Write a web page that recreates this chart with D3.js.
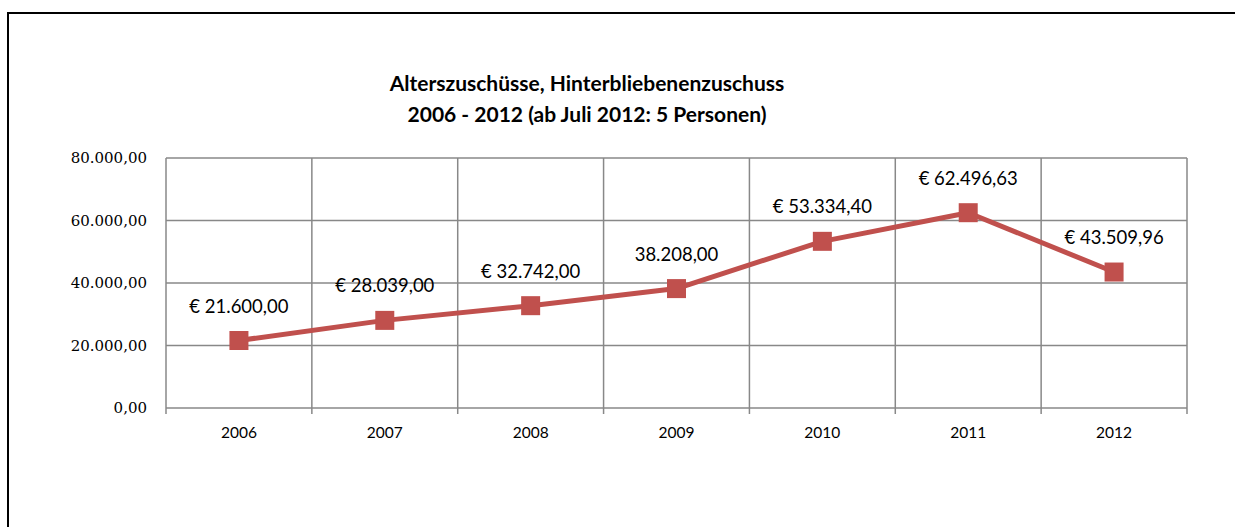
<!DOCTYPE html>
<html>
<head>
<meta charset="utf-8">
<script src="https://cdn.jsdelivr.net/npm/d3@7"></script>
<style>
  html, body { margin: 0; padding: 0; background: #fff; overflow: hidden; }
  svg { display: block; }
</style>
</head>
<body>
<div id="chartContainer"></div>
<script>
// Chart data
const years = ["2006", "2007", "2008", "2009", "2010", "2011", "2012"];
const amounts = [21600.00, 28039.00, 32742.00, 38208.00, 53334.40, 62496.63, 43509.96];
const euroSign = [true, true, true, false, true, true, true];
const yTicks = [0, 20000, 40000, 60000, 80000];
const titleLines = ["Alterszuschüsse, Hinterbliebenenzuschuss", "2006 - 2012 (ab Juli 2012: 5 Personen)"];

const width = 1235;
const height = 527;
const margin = { top: 158, right: 48, bottom: 119, left: 166 };

// German number format
const de = d3.formatLocale({ decimal: ",", thousands: ".", grouping: [3], currency: ["€ ", ""] });
const fmt = de.format(",.2f");

const svg = d3.select("#chartContainer")
  .append("svg")
  .attr("width", width)
  .attr("height", height);

// outer frame: only the left and top edges are inside the picture
svg.append("path")
  .attr("d", `M8,${height} L8,13 L${width},13`)
  .attr("fill", "none")
  .attr("stroke", "#000")
  .attr("stroke-width", 2);

// title
svg.append("text")
  .attr("x", 587)
  .attr("y", 91)
  .attr("text-anchor", "middle")
  .attr("font-family", "Lato, sans-serif")
  .attr("font-weight", "bold")
  .attr("font-size", 21)
  .selectAll("tspan")
  .data(titleLines)
  .enter()
  .append("tspan")
  .attr("x", 587)
  .attr("dy", (d, i) => i === 0 ? 0 : 31)
  .text(d => d);

const x = d3.scaleBand()
  .domain(years)
  .range([margin.left, width - margin.right]);

const y = d3.scaleLinear()
  .domain([0, 80000])
  .range([height - margin.bottom, margin.top]);

const gridColor = "#888";

// horizontal gridlines
svg.append("g")
  .selectAll("line")
  .data(yTicks)
  .enter()
  .append("line")
  .attr("x1", margin.left)
  .attr("x2", width - margin.right)
  .attr("y1", d => y(d))
  .attr("y2", d => y(d))
  .attr("stroke", gridColor)
  .attr("stroke-width", 1.5);

// vertical gridlines at category boundaries
const bounds = years.map(d => x(d)).concat([x.range()[1]]);
svg.append("g")
  .selectAll("line")
  .data(bounds)
  .enter()
  .append("line")
  .attr("x1", d => d)
  .attr("x2", d => d)
  .attr("y1", margin.top)
  .attr("y2", height - margin.bottom + 6)
  .attr("stroke", gridColor)
  .attr("stroke-width", 1.5);

// y axis labels
const yAxis = svg.append("g")
  .attr("transform", `translate(${margin.left}, 0)`)
  .call(d3.axisLeft(y).tickValues(yTicks).tickSize(0).tickPadding(19).tickFormat(fmt));
yAxis.select(".domain").remove();
yAxis.selectAll("text")
  .attr("font-family", "'DejaVu Serif', serif")
  .attr("font-size", 15)
  .attr("fill", "#000");

// x axis labels
const xAxis = svg.append("g")
  .attr("transform", `translate(0, ${height - margin.bottom})`)
  .call(d3.axisBottom(x).tickSize(0).tickPadding(19));
xAxis.select(".domain").remove();
xAxis.selectAll("text")
  .attr("font-family", "Lato, sans-serif")
  .attr("font-size", 15.5)
  .attr("fill", "#000");

// line
const cx = d => x(d) + x.bandwidth() / 2;
const line = d3.line()
  .x((d, i) => cx(years[i]))
  .y(d => y(d));

svg.append("path")
  .datum(amounts)
  .attr("d", line)
  .attr("fill", "none")
  .attr("stroke", "#C0504D")
  .attr("stroke-width", 5)
  .attr("stroke-linejoin", "round");

// square markers
const size = 19;
svg.append("g")
  .selectAll("rect")
  .data(amounts)
  .enter()
  .append("rect")
  .attr("x", (d, i) => cx(years[i]) - size / 2)
  .attr("y", d => y(d) - size / 2)
  .attr("width", size)
  .attr("height", size)
  .attr("fill", "#C0504D");

// data labels
svg.append("g")
  .selectAll("text")
  .data(amounts)
  .enter()
  .append("text")
  .attr("x", (d, i) => cx(years[i]))
  .attr("y", d => y(d) - 28)
  .attr("text-anchor", "middle")
  .attr("font-family", "Lato, sans-serif")
  .attr("font-size", 18.5)
  .attr("fill", "#000")
  .text((d, i) => (euroSign[i] ? "€ " : "") + fmt(d));
</script>
</body>
</html>
